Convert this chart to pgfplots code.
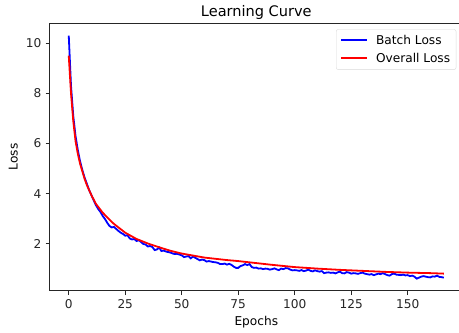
\documentclass[border=0pt]{standalone}
\usepackage{pgfplots}
\pgfplotsset{compat=1.18}
\usepackage{fontspec}
\setmainfont{DejaVu Sans}
\begin{document}
\fontsize{12.2}{14}\selectfont
\begin{tikzpicture}
\path[use as bounding box] (-50bp,-42.3bp) rectangle (409bp,290.7bp);
\begin{axis}[
  at={(0,0)}, anchor=south west,
  scale only axis, width=412.6bp, height=267.4bp,
  xmin=-8.3, xmax=174.3, ymin=0.14, ymax=10.79,
  xtick={0,25,50,75,100,125,150}, ytick={2,4,6,8,10},
  /pgf/number format/assume math mode=true,
  tick align=outside, major tick length=4.3bp,
  tick style={black!85, line width=1bp},
  xtick pos=bottom, ytick pos=left,
  axis line style={black!85, line width=1bp},
  ticklabel style={font=\fontsize{12.2}{14}\selectfont, black!85},
  title={Learning Curve},
  title style={font=\fontsize{14.6}{17}\selectfont, yshift=-6bp},
  xlabel={Epochs}, ylabel={Loss},
  label style={font=\fontsize{12.2}{14}\selectfont},
  legend style={at={(0.9847,0.9776)}, anchor=north east, draw=black!15, rounded corners=2bp, fill=white, fill opacity=0.8, text opacity=1, font=\fontsize{12.2}{14}\selectfont, inner xsep=4bp, inner ysep=3.5bp, row sep=3bp},
  legend cell align=left,
  legend image code/.code={\draw[#1, line width=2bp, fill opacity=1, draw opacity=1] (0bp,0.5bp) -- (26bp,0.5bp); \path (32bp,0bp);},
]
\addplot[blue, line width=1.8bp] coordinates {
(0,10.3)(1,8.3)(2,7.1)(3,6.3)(4,5.75)(5,5.3)(6,4.95)(7,4.65)(8,4.4)(9,4.15)
(10,3.95)(11,3.75)(12,3.55)(13,3.4)(14,3.28)(15,3.12)(16,3.0)(17,2.85)(18,2.72)(19,2.66)
(20,2.68)(21,2.6)(22,2.52)(23,2.45)(24,2.40)(25,2.33)(26,2.35)(27,2.22)(28,2.18)(29,2.2)
(30,2.12)(31,2.15)(32,2.08)(33,2.0)(34,1.98)(35,1.90)(36,1.92)(37,1.88)(38,1.76)(39,1.78)
(40,1.86)(41,1.72)(42,1.74)(43,1.70)(44,1.68)(45,1.66)(46,1.62)(47,1.60)(48,1.61)(49,1.58)
(50,1.55)(51,1.48)(52,1.50)(53,1.52)(54,1.43)(55,1.50)(56,1.45)(57,1.40)(58,1.35)(59,1.38)
(60,1.36)(61,1.30)(62,1.32)(63,1.30)(64,1.28)(65,1.27)(66,1.25)(67,1.20)(68,1.20)(69,1.22)
(70,1.18)(71,1.21)(72,1.17)(73,1.10)(74,1.05)(75,1.05)(76,1.12)(77,1.15)(78,1.20)(79,1.16)
(80,1.20)(81,1.08)(82,1.05)(83,1.06)(84,1.02)(85,1.03)(86,1.00)(87,1.02)(88,1.01)(89,0.98)
(90,1.00)(91,1.03)(92,0.99)(93,0.96)(94,1.02)(95,1.00)(96,1.04)(97,1.03)(98,0.98)(99,0.95)
(100,0.96)(101,0.95)(102,0.93)(103,0.96)(104,0.92)(105,0.94)(106,0.98)(107,0.93)(108,0.91)(109,0.95)
(110,0.92)(111,0.90)(112,0.92)(113,0.84)(114,0.86)(115,0.87)(116,0.85)(117,0.86)(118,0.83)(119,0.87)
(120,0.90)(121,0.84)(122,0.83)(123,0.88)(124,0.86)(125,0.82)(126,0.84)(127,0.83)(128,0.81)(129,0.84)
(130,0.86)(131,0.82)(132,0.80)(133,0.78)(134,0.80)(135,0.76)(136,0.79)(137,0.82)(138,0.80)(139,0.84)
(140,0.80)(141,0.76)(142,0.74)(143,0.80)(144,0.82)(145,0.78)(146,0.77)(147,0.76)(148,0.78)(149,0.75)
(150,0.76)(151,0.72)(152,0.74)(153,0.70)(154,0.62)(155,0.66)(156,0.70)(157,0.72)(158,0.70)(159,0.68)
(160,0.67)(161,0.71)(162,0.70)(163,0.74)(164,0.69)(165,0.68)(166,0.66)
};
\addlegendentry{Batch Loss}
\addplot[red, line width=1.8bp] coordinates {
(0,9.5)(1,8.0)(2,6.9)(3,6.1)(4,5.6)(5,5.2)(6,4.9)(7,4.6)(8,4.35)(10,3.95)
(12,3.6)(15,3.25)(18,2.97)(20,2.8)(25,2.45)(30,2.2)(35,2.02)(40,1.87)(45,1.73)(50,1.62)
(60,1.46)(70,1.36)(75,1.32)(80,1.27)(90,1.17)(100,1.08)(110,1.02)(120,0.97)(125,0.95)(130,0.93)
(140,0.89)(150,0.86)(160,0.84)(166,0.82)
};
\addlegendentry{Overall Loss}
\end{axis}
\end{tikzpicture}
\end{document}
